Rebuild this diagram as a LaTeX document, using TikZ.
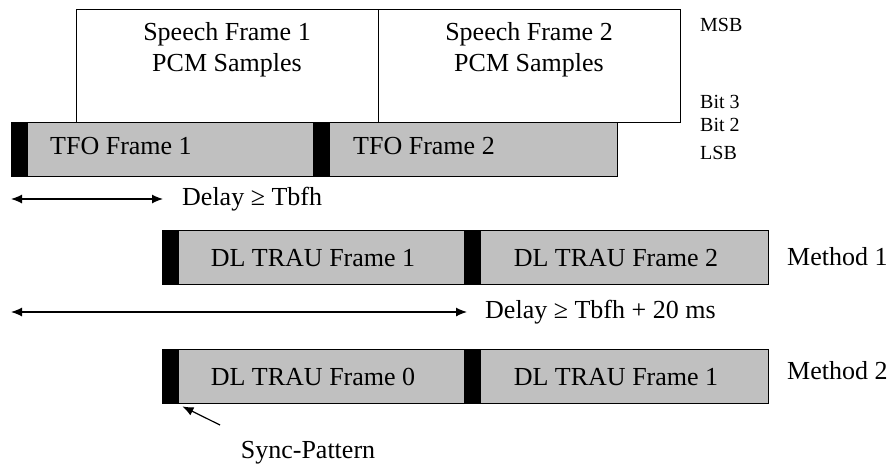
\documentclass[tikz,border=0pt]{standalone}
\usepackage{fontspec}
\setmainfont{Liberation Serif}
\usepackage{tikz}
\usetikzlibrary{arrows.meta}
\usetikzlibrary{positioning}
\definecolor{barGray}{HTML}{C0C0C0}
\tikzset{frame-line/.style={line width=1.2pt}}
\tikzset{>={Latex[length=11pt,width=9pt]}}
\tikzset{big-text/.style={font=\fontsize{26}{31}\selectfont, inner sep=0}}
\tikzset{small-text/.style={font=\fontsize{20}{24}\selectfont, inner sep=0, anchor=west}}
\tikzset{speech-box/.style={draw, frame-line, anchor=north west, inner sep=0,
        minimum width=302pt, minimum height=113pt}}
\tikzset{bar-node/.style={draw, frame-line, fill=barGray, anchor=north west, inner sep=0,
        minimum height=54pt}}
\tikzset{sync-node/.style={fill=black, anchor=north west, inner sep=0,
        minimum width=17pt, minimum height=54pt}}
\tikzset{delay-arrow/.style={frame-line, <->}}
\newcommand{\syncmark}[3] {
    \node[sync-node] (#1) at (#2,#3) {};
}
\begin{document}
\begin{tikzpicture}[x=1pt, y=-1pt]
    \useasboundingbox (0,0) rectangle (890,467);

    % speech frames
    \node[speech-box] (sf1) at (76,9) {};
    \node[speech-box] (sf2) at (378,9) {};
    \node[big-text, align=center] (sf1text) at (227,50) {Speech Frame 1\\PCM Samples};
    \node[big-text, align=center] (sf2text) at (529,50) {Speech Frame 2\\PCM Samples};

    % bit labels
    \node[small-text] (msb) at (700,25) {MSB};
    \node[small-text] (bit3) at (700,102) {Bit 3};
    \node[small-text] (bit2) at (700,125) {Bit 2};
    \node[small-text] (lsb) at (700,153) {LSB};

    % TFO frames
    \node[bar-node, minimum width=606pt] (tfo) at (11,122) {};
    \syncmark{tfosync1}{11}{122}
    \syncmark{tfosync2}{313}{122}
    \node[big-text, anchor=west] (tfo1) at (50,146) {TFO Frame 1};
    \node[big-text, anchor=west] (tfo2) at (353,146) {TFO Frame 2};

    % first delay
    \coordinate (d1l) at (11,199);
    \coordinate (d1r) at (163,199);
    \draw[delay-arrow] (d1l) -- (d1r);
    \node[big-text, anchor=west] (d1text) at (182,199) {Delay ≥ Tbfh};

    % method 1
    \node[bar-node, minimum width=606pt] (trau1) at (162,230) {};
    \syncmark{trausync11}{162}{230}
    \syncmark{trausync12}{464}{230}
    \node[big-text] (trau11) at (313,258) {DL TRAU Frame 1};
    \node[big-text] (trau12) at (616,258) {DL TRAU Frame 2};
    \node[big-text, anchor=west] (meth1) at (787,257) {Method 1};

    % second delay
    \coordinate (d2l) at (11,312);
    \coordinate (d2r) at (467,312);
    \draw[delay-arrow] (d2l) -- (d2r);
    \node[big-text, anchor=west] (d2text) at (485,312) {Delay ≥ Tbfh + 20 ms};

    % method 2
    \node[bar-node, minimum width=606pt] (trau2) at (162,349) {};
    \syncmark{trausync21}{162}{349}
    \syncmark{trausync22}{464}{349}
    \node[big-text] (trau21) at (313,377) {DL TRAU Frame 0};
    \node[big-text] (trau22) at (616,377) {DL TRAU Frame 1};
    \node[big-text, anchor=west] (meth2) at (787,371) {Method 2};

    % sync pattern
    \node[big-text] (synctext) at (308,453) {Sync-Pattern};
    \coordinate (synctail) at (220,425);
    \draw[frame-line, ->] (synctail) -- ([xshift=3pt, yshift=-3pt]trausync21.south east);
\end{tikzpicture}
\end{document}
